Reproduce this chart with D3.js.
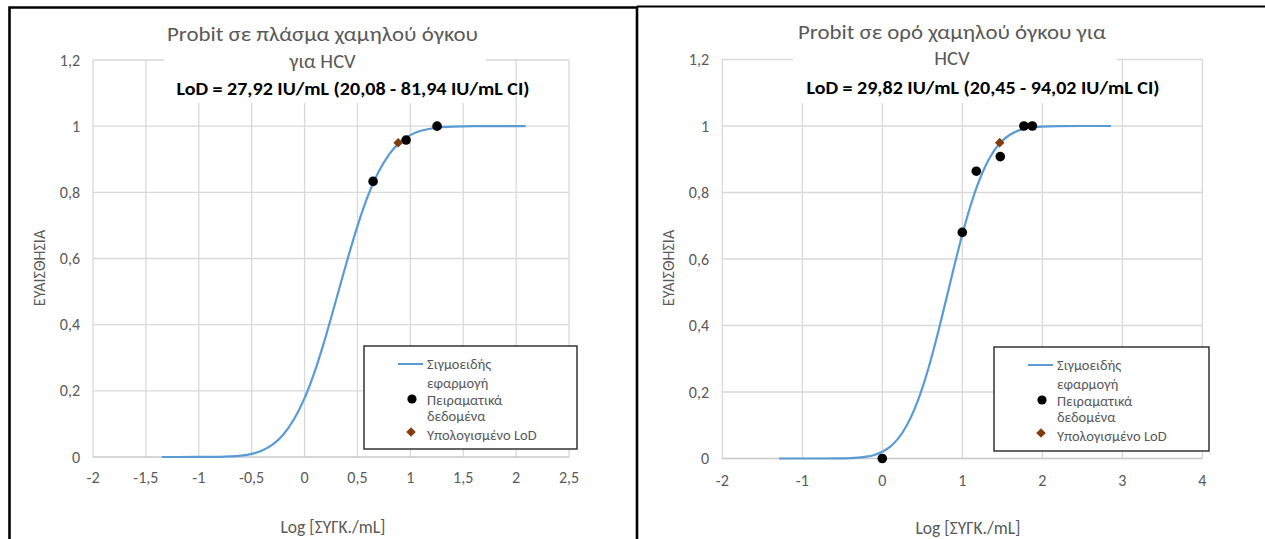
<!DOCTYPE html>
<html><head><meta charset="utf-8">
<script src="https://cdn.jsdelivr.net/npm/d3@7"></script>
<style>body{margin:0;background:#fff}svg{display:block}</style>
</head><body><svg id="c" width="1265" height="539"></svg>
<script>
// ---------- data ----------
const yTicks = [0, 0.2, 0.4, 0.6, 0.8, 1, 1.2];
const leftXTicks = [-2, -1.5, -1, -0.5, 0, 0.5, 1, 1.5, 2, 2.5];
const rightXTicks = [-2, -1, 0, 1, 2, 3, 4];

const leftCurveX = [-1.35, -1.2, -1.0, -0.8, -0.7, -0.6, -0.5, -0.4, -0.3, -0.2, -0.1, 0.0, 0.1, 0.2, 0.3, 0.4, 0.5, 0.6, 0.7, 0.8, 0.9, 1.0, 1.1, 1.2, 1.3, 1.4, 1.6, 1.8, 2.09];
const leftCurveY = [0.000, 0.000, 0.0001, 0.0006, 0.0017, 0.0041, 0.0093, 0.0195, 0.0378, 0.068, 0.114, 0.178, 0.262, 0.364, 0.477, 0.591, 0.698, 0.790, 0.862, 0.915, 0.951, 0.973, 0.986, 0.993, 0.997, 0.9988, 0.9999, 1.0, 1.0];
const leftDataX = [0.648, 0.96, 1.253];
const leftDataY = [0.833, 0.958, 1.0];
const leftLodX = [0.885];
const leftLodY = [0.95];

const rightCurveX = [-1.29, -1.0, -0.8, -0.6, -0.4, -0.3, -0.2, -0.1, 0.0, 0.1, 0.2, 0.3, 0.4, 0.5, 0.6, 0.7, 0.8, 0.9, 1.0, 1.1, 1.2, 1.3, 1.4, 1.5, 1.6, 1.7, 1.8, 1.9, 2.0, 2.2, 2.5, 2.86];
const rightCurveY = [0, 0, 0, 0.0002, 0.0011, 0.0026, 0.0054, 0.0107, 0.0202, 0.0359, 0.0606, 0.0968, 0.1469, 0.2119, 0.2912, 0.3821, 0.4801, 0.5793, 0.6736, 0.758, 0.8289, 0.8849, 0.9265, 0.9554, 0.9744, 0.9861, 0.9929, 0.9965, 0.9984, 0.9997, 1.0, 1.0];
const rightDataX = [0, 1.0, 1.175, 1.475, 1.77, 1.875];
const rightDataY = [0, 0.68, 0.864, 0.908, 1.0, 1.0];
const rightLodX = [1.4675];
const rightLodY = [0.95];

const leftTitle = ["Probit σε πλάσμα χαμηλού όγκου", "για HCV"];
const leftSubtitle = "LoD = 27,92 IU/mL (20,08 - 81,94 IU/mL CI)";
const rightTitle = ["Probit σε ορό χαμηλού όγκου για", "HCV"];
const rightSubtitle = "LoD = 29,82 IU/mL (20,45 - 94,02 IU/mL CI)";
const xAxisTitle = "Log [ΣΥΓΚ./mL]";
const yAxisTitle = "ΕΥΑΙΣΘΗΣΙΑ";
const legendLabels = [["Σιγμοειδής", "εφαρμογή"], ["Πειραματικά", "δεδομένα"], ["Υπολογισμένο LoD"]];

// ---------- drawing ----------
const FONT = "Carlito, 'Open Sans', 'Noto Sans', sans-serif";
const GREY = "#595959";
const svg = d3.select("#c");
svg.append("rect").attr("width", 1265).attr("height", 539).attr("fill", "#fff");

const fmt = v => String(v).replace(".", ",");

function drawChart(cfg) {
  const g = svg.append("g");
  const x = d3.scaleLinear().domain(cfg.xDomain).range(cfg.xRange);
  const y = d3.scaleLinear().domain([0, 1.2]).range(cfg.yRange);

  g.append("g").selectAll("line").data(cfg.xTicks).join("line")
    .attr("x1", d => x(d)).attr("x2", d => x(d))
    .attr("y1", y(1.2)).attr("y2", y(0))
    .attr("stroke", "#d9d9d9").attr("stroke-width", 1.3);
  g.append("g").selectAll("line").data(yTicks).join("line")
    .attr("x1", cfg.xRange[0]).attr("x2", cfg.xRange[1])
    .attr("y1", d => y(d)).attr("y2", d => y(d))
    .attr("stroke", d => d === 0 ? "#c8c8c8" : "#d9d9d9").attr("stroke-width", 1.3);

  g.append("g").selectAll("text").data(cfg.xTicks).join("text")
    .attr("x", d => x(d)).attr("y", cfg.xLabelY)
    .attr("text-anchor", "middle").attr("font-family", FONT).attr("font-size", 16).attr("fill", GREY)
    .text(fmt);
  g.append("g").selectAll("text").data(yTicks).join("text")
    .attr("x", cfg.yLabelX).attr("y", d => y(d) + 5.5)
    .attr("text-anchor", "end").attr("font-family", FONT).attr("font-size", 16).attr("fill", GREY)
    .text(fmt);

  g.append("text").attr("x", cfg.xTitle[0]).attr("y", cfg.xTitle[1])
    .attr("text-anchor", "middle").attr("font-family", FONT).attr("font-size", 17.5).attr("fill", GREY)
    .text(xAxisTitle);
  g.append("text").attr("transform", `translate(${cfg.yTitle[0]},${cfg.yTitle[1]}) rotate(-90)`)
    .attr("text-anchor", "middle").attr("font-family", FONT).attr("font-size", 16).attr("fill", GREY)
    .text(yAxisTitle);

  g.append("rect").attr("x", cfg.titleBox[0]).attr("y", cfg.titleBox[1])
    .attr("width", cfg.titleBox[2]).attr("height", cfg.titleBox[3]).attr("fill", "#fff");
  cfg.title.forEach((t, i) => {
    const tx = g.append("text").attr("x", cfg.titleX).attr("y", cfg.titleY[i])
      .attr("text-anchor", "middle").attr("font-family", FONT).attr("font-size", 20.5).attr("fill", GREY)
      .text(t);
    if (cfg.titleW[i]) tx.attr("textLength", cfg.titleW[i]).attr("lengthAdjust", "spacingAndGlyphs");
  });
  g.append("text").attr("x", cfg.subX).attr("y", cfg.subY)
    .attr("text-anchor", "middle").attr("font-family", FONT).attr("font-size", 17.5)
    .attr("font-weight", "bold").attr("fill", "#000")
    .attr("textLength", 353).attr("lengthAdjust", "spacingAndGlyphs")
    .text(cfg.subtitle);

  const pts = cfg.curveX.map((v, i) => [v, cfg.curveY[i]]);
  g.append("path").datum(pts)
    .attr("d", d3.line().x(d => x(d[0])).y(d => y(d[1])).curve(d3.curveMonotoneX))
    .attr("fill", "none").attr("stroke", "#5B9BD5").attr("stroke-width", 2.2);

  g.append("g").selectAll("circle").data(cfg.dataX.map((v, i) => [v, cfg.dataY[i]])).join("circle")
    .attr("cx", d => x(d[0])).attr("cy", d => y(d[1])).attr("r", 4.8).attr("fill", "#000");
  const diamond = d3.symbol().type(d3.symbolSquare).size(46);
  g.append("g").selectAll("path").data(cfg.lodX.map((v, i) => [v, cfg.lodY[i]])).join("path")
    .attr("d", diamond)
    .attr("transform", d => `translate(${x(d[0])},${y(d[1])}) rotate(45)`)
    .attr("fill", "#843C0C");

  const L = cfg.legend;
  g.append("rect").attr("x", L.x).attr("y", L.y).attr("width", L.w).attr("height", L.h)
    .attr("fill", "#fff").attr("stroke", "#262626").attr("stroke-width", 1.4);
  g.append("line").attr("x1", L.x + 34).attr("x2", L.x + 59).attr("y1", L.y + 18).attr("y2", L.y + 18)
    .attr("stroke", "#5B9BD5").attr("stroke-width", 2);
  g.append("circle").attr("cx", L.x + 48).attr("cy", L.y + 53).attr("r", 4.6).attr("fill", "#000");
  g.append("path").attr("d", diamond).attr("transform", `translate(${L.x + 47},${L.y + 86}) rotate(45)`)
    .attr("fill", "#843C0C");
  const lines = legendLabels.flat();
  const lineY = [18, 37, 54, 70, 89];
  g.append("g").selectAll("text").data(lines).join("text")
    .attr("x", L.x + 63).attr("y", (d, i) => L.y + lineY[i] + 5)
    .attr("font-family", FONT).attr("font-size", 14.5).attr("fill", GREY)
    .text(d => d);
}

drawChart({
  xDomain: [-2, 2.5], xRange: [93, 569], yRange: [457, 60], xTicks: leftXTicks,
  xLabelY: 483, yLabelX: 80, xTitle: [333, 533], yTitle: [45, 268],
  titleBox: [164, 14, 322, 89], title: leftTitle, titleX: 322.5, titleY: [41, 68], titleW: [311, 0],
  subtitle: leftSubtitle, subX: 353, subY: 95,
  curveX: leftCurveX, curveY: leftCurveY, dataX: leftDataX, dataY: leftDataY, lodX: leftLodX, lodY: leftLodY,
  legend: { x: 364, y: 346, w: 213, h: 103 }
});
drawChart({
  xDomain: [-2, 4], xRange: [722.3, 1202.3], yRange: [458.5, 59.5], xTicks: rightXTicks,
  xLabelY: 486, yLabelX: 709, xTitle: [968, 534], yTitle: [674, 268],
  titleBox: [793, 14, 324, 89], title: rightTitle, titleX: 952, titleY: [39, 65], titleW: [308, 0],
  subtitle: rightSubtitle, subX: 983, subY: 94,
  curveX: rightCurveX, curveY: rightCurveY, dataX: rightDataX, dataY: rightDataY, lodX: rightLodX, lodY: rightLodY,
  legend: { x: 994, y: 347, w: 215, h: 104 }
});

svg.append("path").attr("d", "M9.5,545 V7.5 H637 V545").attr("fill", "none")
  .attr("stroke", "#000").attr("stroke-width", 2.6);
svg.append("line").attr("x1", 637).attr("x2", 1265).attr("y1", 6.5).attr("y2", 6.5)
  .attr("stroke", "#000").attr("stroke-width", 2);
</script>
</body></html>
